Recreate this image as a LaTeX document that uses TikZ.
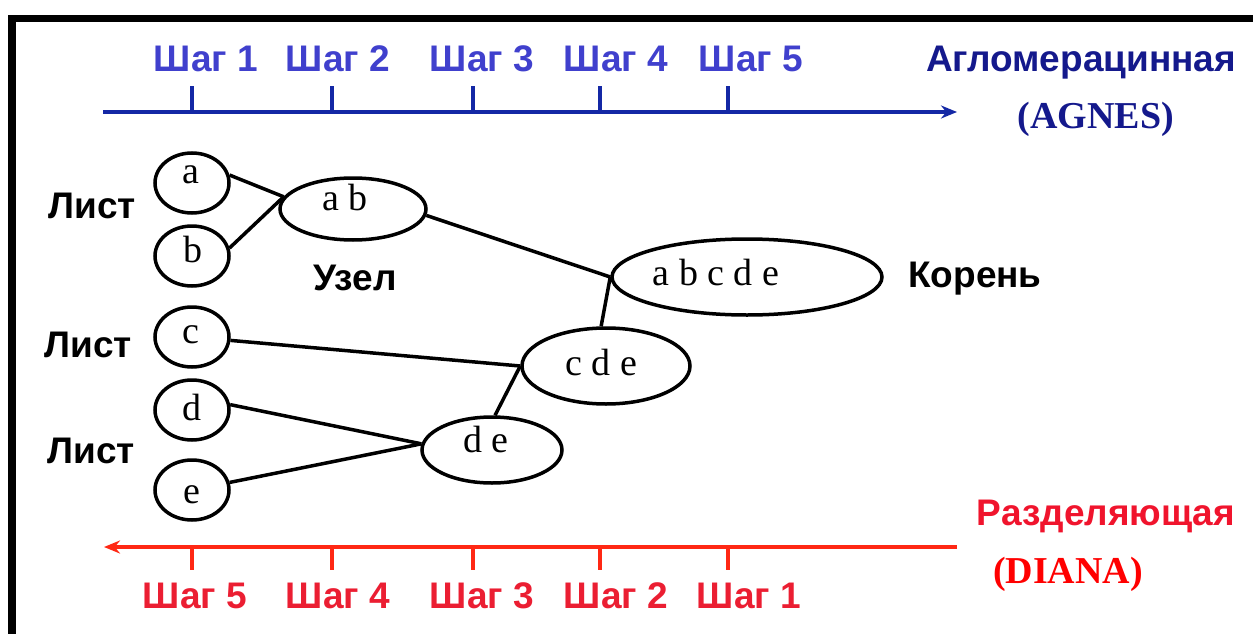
\documentclass[tikz,border=0pt]{standalone}
\usepackage{fontspec}
\setmainfont{Liberation Serif}
\newfontfamily\sansbold{Liberation Sans}
\usetikzlibrary{shapes.geometric,arrows.meta}

\definecolor{agblue}{RGB}{20,40,165}
\definecolor{agstep}{RGB}{64,64,205}
\definecolor{agtitle}{RGB}{20,25,140}
\definecolor{diaxis}{RGB}{255,40,20}
\definecolor{distep}{RGB}{235,30,50}
\definecolor{dititle}{RGB}{240,20,45}

\tikzset{
  sanslbl/.style={anchor=base, inner sep=0, font=\sansbold\bfseries\fontsize{37}{40}\selectfont},
  seriflbl/.style={anchor=base, inner sep=0, font=\bfseries\fontsize{38}{40}\selectfont},
  letter/.style={anchor=base, inner sep=0, font=\fontsize{38}{40}\selectfont},
  leaf/.style={ellipse, draw, line width=3.5pt, inner sep=0, minimum width=74pt, minimum height=60pt},
  cluster/.style={ellipse, draw, line width=3.5pt, inner sep=0},
  link/.style={line width=3.5pt},
  axis/.style={line width=3.5pt},
  tick/.style={line width=3.5pt},
}

\begin{document}
\begin{tikzpicture}[x=1pt, y=-1pt]
\useasboundingbox (0,0) rectangle (1253,634);

% frame
\fill[black] (8,15) rectangle (1253,22);
\fill[black] (8,15) rectangle (16,634);

% agglomerative axis
\coordinate (agS) at (103,112);
\coordinate (agE) at (957,112);
\draw[axis, agblue, -{Stealth[length=16pt, width=13pt]}] (agS) -- (agE);
\foreach \x in {192,332,473,600,728} \draw[tick, agblue] (\x,86) -- (\x,112);
\node[sanslbl, agstep] (ts1) at (206,72) {Шаг 1};
\node[sanslbl, agstep] (ts2) at (338,72) {Шаг 2};
\node[sanslbl, agstep] (ts3) at (482,72) {Шаг 3};
\node[sanslbl, agstep] (ts4) at (616,72) {Шаг 4};
\node[sanslbl, agstep] (ts5) at (751,72) {Шаг 5};
\node[sanslbl, agtitle] (agt) at (1081,71) {Агломерацинная};
\node[seriflbl, agtitle] (agn) at (1096,128) {(AGNES)};

% divisive axis
\coordinate (diS) at (957,547);
\coordinate (diE) at (104,547);
\draw[axis, diaxis, -{Stealth[length=16pt, width=13pt]}] (diS) -- (diE);
\foreach \x in {192,332,473,600,728} \draw[tick, diaxis] (\x,547) -- (\x,570);
\node[sanslbl, distep] (bs5) at (195,608) {Шаг 5};
\node[sanslbl, distep] (bs4) at (338,608) {Шаг 4};
\node[sanslbl, distep] (bs3) at (482,608) {Шаг 3};
\node[sanslbl, distep] (bs2) at (616,608) {Шаг 2};
\node[sanslbl, distep] (bs1) at (749,608) {Шаг 1};
\node[sanslbl, dititle] (dit) at (1106,525) {Разделяющая};
\node[seriflbl, red] (din) at (1068,583) {(DIANA)};

% leaves
\node[leaf] (a) at (192,183) {};
\node[leaf] (b) at (192,256) {};
\node[leaf] (c) at (192,337) {};
\node[leaf] (d) at (192,410) {};
\node[leaf] (e) at (192,490) {};

% merged clusters
\node[cluster, minimum width=146pt, minimum height=62pt] (ab) at (353,209) {};
\node[cluster, minimum width=270pt, minimum height=76pt] (abcde) at (747,277) {};
\node[cluster, minimum width=168pt, minimum height=76pt] (cde) at (606,366) {};
\node[cluster, minimum width=140pt, minimum height=66pt] (de) at (492,450) {};

% cluster contents
\node[letter] (ta) at (191,183) {a};
\node[letter] (tb) at (193,262) {b};
\node[letter] (tc) at (191,343) {c};
\node[letter] (td) at (192,420) {d};
\node[letter] (te) at (192,503) {e};
\node[letter] (tab) at (345,210) {a b};
\node[letter] (tabcde) at (716,285) {a b c d e};
\node[letter] (tcde) at (601,375) {c d e};
\node[letter] (tde) at (486,452) {d e};

% links
\draw[link] (a.12) -- (ab.170);
\draw[link] (b.12) -- (ab.170);
\draw[link] (ab.-5) -- (abcde.west);
\draw[link] (cde.97) -- (abcde.west);
\draw[link] (c) -- (cde.west);
\draw[link] (de.85) -- (cde.west);
\draw[link] (d.8) -- (de.175);
\draw[link] (e) -- (de.175);

% captions
\node[sanslbl] (l1) at (92,218) {Лист};
\node[sanslbl] (l2) at (88,357) {Лист};
\node[sanslbl] (l3) at (91,463) {Лист};
\node[sanslbl] (node) at (355,290) {Узел};
\node[sanslbl] (root) at (975,287) {Корень};
\end{tikzpicture}
\end{document}
